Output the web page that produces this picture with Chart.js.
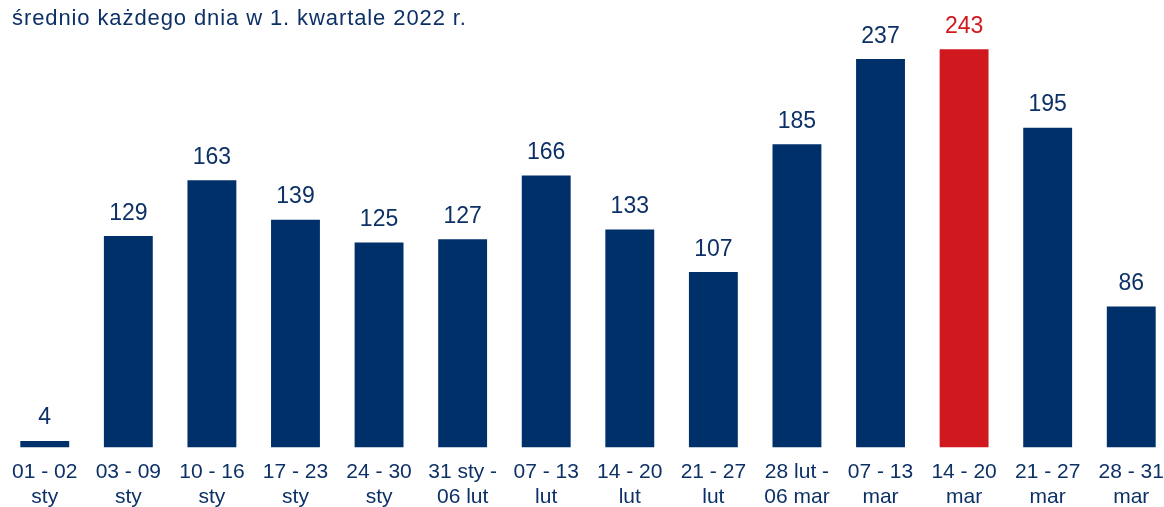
<!DOCTYPE html>
<html>
<head>
<meta charset="utf-8">
<script src="https://cdn.jsdelivr.net/npm/chart.js@4/dist/chart.umd.min.js"></script>
<style>
  html, body { margin: 0; padding: 0; overflow: hidden; background: #fff; }
  #wrap { position: relative; width: 1176px; height: 507px; }
  #title {
    position: absolute; left: 12px; top: 5px;
    font-family: "Liberation Sans", Arial, sans-serif; font-size: 22px;
    letter-spacing: 0.9px; color: #0d3166; white-space: nowrap;
  }
</style>
</head>
<body>
<div id="wrap">
  <canvas id="chart"></canvas>
  <div id="title">średnio każdego dnia w 1. kwartale 2022 r.</div>
</div>
<script>
const categories = [
  ['01 - 02', 'sty'], ['03 - 09', 'sty'], ['10 - 16', 'sty'], ['17 - 23', 'sty'],
  ['24 - 30', 'sty'], ['31 sty -', '06 lut'], ['07 - 13', 'lut'], ['14 - 20', 'lut'],
  ['21 - 27', 'lut'], ['28 lut -', '06 mar'], ['07 - 13', 'mar'], ['14 - 20', 'mar'],
  ['21 - 27', 'mar'], ['28 - 31', 'mar']
];
const values = [4, 129, 163, 139, 125, 127, 166, 133, 107, 185, 237, 243, 195, 86];
const highlightIndex = 11;

const NAVY = '#00306a';
const RED = '#d0191f';
const TEXT = '#0d3166';
const FONT = '"Liberation Sans", Arial, sans-serif';

const barColors = values.map((v, i) => i === highlightIndex ? RED : NAVY);

// draws the value above each bar
const valueLabels = {
  id: 'valueLabels',
  afterDatasetsDraw(chart) {
    const ctx = chart.ctx;
    const meta = chart.getDatasetMeta(0);
    ctx.save();
    ctx.font = '23px ' + FONT;
    ctx.textAlign = 'center';
    ctx.textBaseline = 'alphabetic';
    meta.data.forEach((bar, i) => {
      ctx.fillStyle = i === highlightIndex ? RED : TEXT;
      ctx.fillText(String(values[i]), bar.x, bar.y - 16.5);
    });
    ctx.restore();
  }
};

new Chart(document.getElementById('chart'), {
  type: 'bar',
  data: {
    labels: categories,
    datasets: [{
      data: values,
      backgroundColor: barColors,
      barPercentage: 0.585,
      categoryPercentage: 1
    }]
  },
  options: {
    responsive: true,
    maintainAspectRatio: false,
    animation: false,
    layout: { padding: { left: 2.6, right: 2, top: 0, bottom: 0 } },
    plugins: { legend: { display: false }, tooltip: { enabled: false } },
    scales: {
      x: {
        grid: { display: false, drawTicks: false },
        border: { display: false },
        ticks: {
          color: TEXT,
          autoSkip: false,
          maxRotation: 0,
          padding: 12,
          font: { family: FONT, size: 21, lineHeight: 1.2 }
        },
        afterFit(scale) { scale.height = 59.5; }
      },
      y: {
        display: false,
        min: 0,
        max: 273
      }
    }
  },
  plugins: [valueLabels]
});
</script>
</body>
</html>
